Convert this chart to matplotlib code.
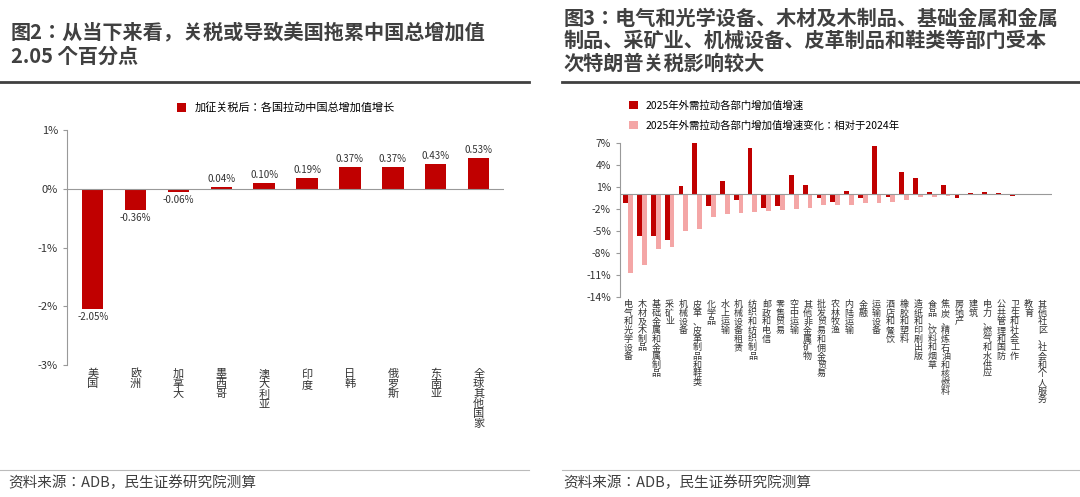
import matplotlib
matplotlib.use("Agg")
import matplotlib.pyplot as plt
from matplotlib import font_manager as fm
import numpy as np
from matplotlib.lines import Line2D

cjk = None
for f in fm.fontManager.ttflist:
    if 'CJK' in f.name and ('SC' in f.name or cjk is None):
        cjk = f.name
        if 'SC' in f.name:
            break
if cjk is None:
    for path in fm.findSystemFonts():
        if 'CJK' in path:
            fm.fontManager.addfont(path)
            cjk = fm.FontProperties(fname=path).get_name()
            break
plt.rcParams['font.family'] = [cjk or 'Noto Sans CJK SC', 'DejaVu Sans']
plt.rcParams['axes.unicode_minus'] = False

left_cats = ["美国","欧洲","加拿大","墨西哥","澳大利亚","印度","日韩","俄罗斯","东南亚","全球其他国家"]
left_vals = [-2.05,-0.36,-0.06,0.04,0.10,0.19,0.37,0.37,0.43,0.53]
left_ticks = [1,0,-1,-2,-3]

right_cats = ["电气和光学设备","木材及木制品","基础金属和金属制品","采矿业","机械设备","皮革、皮革制品和鞋类",
              "化学品","水上运输","机械设备租赁","纺织和纺织制品","邮政和电信","零售贸易","空中运输",
              "其他非金属矿物","批发贸易和佣金贸易","农林牧渔","内陆运输","金融","运输设备","酒店和餐饮",
              "橡胶和塑料","造纸和印刷出版","食品、饮料和烟草","焦炭、精炼石油和核燃料","房地产","建筑",
              "电力、燃气和水供应","公共管理和国防","卫生和社会工作","教育","其他社区、社会和个人服务"]
growth_2025 = [-1.2,-5.6,-5.7,-6.2,1.2,7.0,-1.6,1.9,-0.8,6.3,-1.8,-1.6,2.6,1.3,-0.5,-1.0,0.5,-0.5,6.6,-0.4,
               3.0,2.2,0.3,1.3,-0.5,0.2,0.4,0.2,-0.2,0.05,0.05]
change_vs_2024 = [-10.7,-9.6,-7.4,-7.2,-5.0,-4.7,-3.1,-2.7,-2.5,-2.4,-2.2,-2.1,-2.0,-1.8,-1.5,-1.4,-1.4,-1.1,-1.1,
                  -1.0,-0.7,-0.4,-0.3,-0.2,-0.1,-0.1,-0.1,-0.1,-0.05,-0.05,-0.05]
right_ticks = [7,4,1,-2,-5,-8,-11,-14]

DARK = "#c00000"
PINK = "#f4a6a6"
GRAY = "#404040"

fig = plt.figure(figsize=(10.8,4.97), dpi=100)

fig.text(0.010,0.955,"图2：从当下来看，关税或导致美国拖累中国总增加值\n2.05 个百分点", fontsize=14.5,
         fontweight='bold', color=GRAY, va='top', linespacing=1.15)
fig.text(0.522,0.985,"图3：电气和光学设备、木材及木制品、基础金属和金属\n制品、采矿业、机械设备、皮革制品和鞋类等部门受本\n次特朗普关税影响较大",
         fontsize=14.5, fontweight='bold', color=GRAY, va='top', linespacing=1.1)
for x0,x1 in [(0.0,0.49),(0.52,1.0)]:
    fig.add_artist(Line2D([x0,x1],[0.835,0.835], color=GRAY, lw=2))
    fig.add_artist(Line2D([x0,x1],[0.055,0.055], color="#bbbbbb", lw=0.8))
fig.text(0.008,0.02,"资料来源：ADB，民生证券研究院测算", fontsize=10.5, color=GRAY)
fig.text(0.522,0.02,"资料来源：ADB，民生证券研究院测算", fontsize=10.5, color=GRAY)

# left chart
ax = fig.add_axes([0.062,0.266,0.405,0.472])
x = np.arange(len(left_cats))
ax.bar(x, left_vals, width=0.5, color=DARK, label="加征关税后：各国拉动中国总增加值增长")
for xi,v in zip(x,left_vals):
    ax.text(xi, v + (0.05 if v>=0 else -0.05), f"{v:.2f}%", ha='center', va='bottom' if v>=0 else 'top',
            fontsize=7, color="#333333")
ax.set_ylim(-3,1)
ax.set_xlim(-0.6,len(left_cats)-0.4)
ax.set_yticks(left_ticks)
ax.set_yticklabels([f"{t}%" for t in left_ticks], fontsize=8, color="#333333")
ax.set_xticks(x)
ax.set_xticklabels(["\n".join(c) for c in left_cats], fontsize=8, color="#333333", linespacing=1.0, va='top')
ax.tick_params(axis='x', length=0, pad=3)
ax.axhline(0, color="#999999", lw=0.8)
for s in ['top','right','bottom']:
    ax.spines[s].set_visible(False)
ax.spines['left'].set_color("#999999")
ax.tick_params(axis='y', length=3, color="#999999")
ax.legend(loc='lower center', bbox_to_anchor=(0.5,1.03), frameon=False, fontsize=8, handlelength=0.8,
          handleheight=0.8)

# right chart
ax2 = fig.add_axes([0.574,0.402,0.400,0.310])
x2 = np.arange(len(right_cats))
w = 0.35
ax2.bar(x2 - w/2, growth_2025, width=w, color=DARK, label="2025年外需拉动各部门增加值增速")
ax2.bar(x2 + w/2, change_vs_2024, width=w, color=PINK, label="2025年外需拉动各部门增加值增速变化：相对于2024年")
ax2.set_ylim(-14,7)
ax2.set_xlim(-0.6,len(right_cats)-0.3)
ax2.set_yticks(right_ticks)
ax2.set_yticklabels([f"{t}%" for t in right_ticks], fontsize=7.5, color="#333333")
ax2.set_xticks(x2)
ax2.set_xticklabels(["\n".join(c) for c in right_cats], fontsize=6.5, color="#333333", linespacing=0.95, va='top')
ax2.tick_params(axis='x', length=0, pad=2)
ax2.axhline(0, color="#999999", lw=0.8)
for s in ['top','right','bottom']:
    ax2.spines[s].set_visible(False)
ax2.spines['left'].set_color("#999999")
ax2.tick_params(axis='y', length=3, color="#999999")
ax2.legend(loc='lower left', bbox_to_anchor=(0.0,1.02), frameon=False, fontsize=7.5, handlelength=0.8,
           handleheight=0.8, labelspacing=0.9)

fig.savefig("out.png", dpi=100)
